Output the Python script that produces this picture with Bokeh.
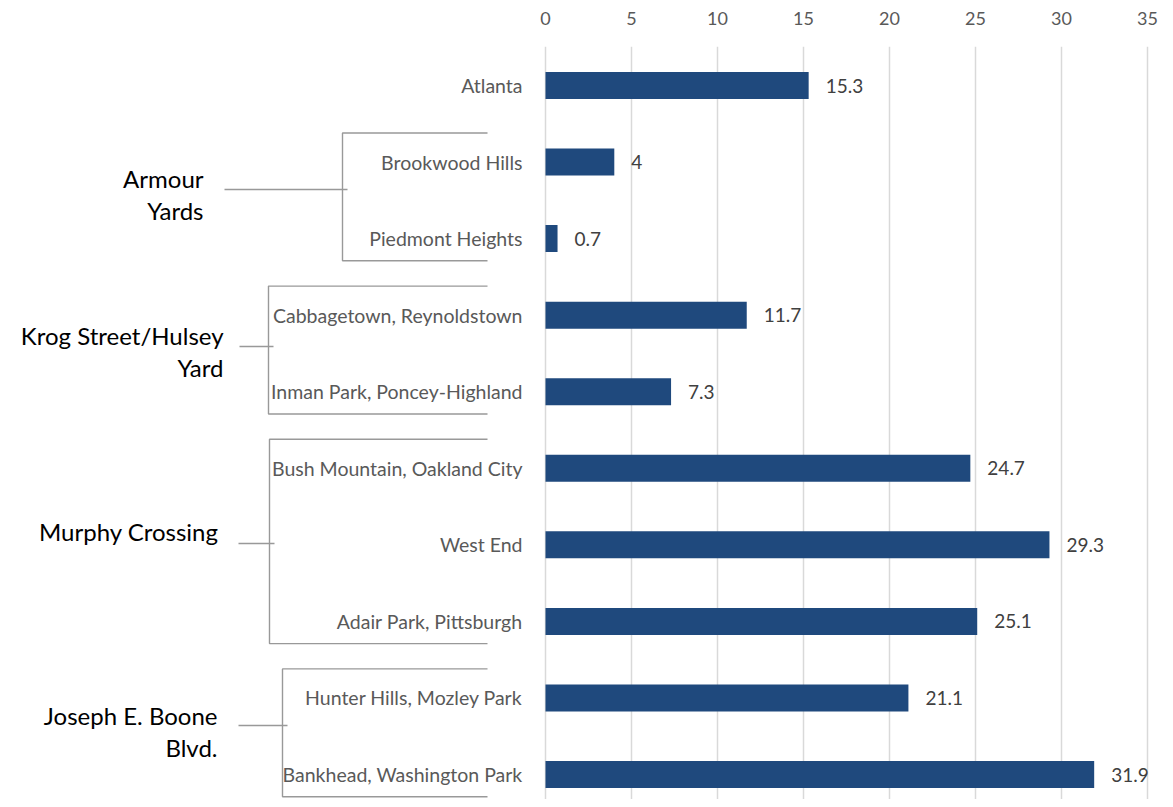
from bokeh.plotting import figure
from bokeh.models import Range1d, FixedTicker, ColumnDataSource
from bokeh.core.properties import value
from bokeh.embed import file_html
from bokeh.resources import INLINE

# ---------------- data ----------------
categories = ["Atlanta", "Brookwood Hills", "Piedmont Heights",
              "Cabbagetown, Reynoldstown", "Inman Park, Poncey-Highland",
              "Bush Mountain, Oakland City", "West End", "Adair Park, Pittsburgh",
              "Hunter Hills, Mozley Park", "Bankhead, Washington Park"]
values = [15.3, 4, 0.7, 11.7, 7.3, 24.7, 29.3, 25.1, 21.1, 31.9]
group_names = ["Armour\nYards", "Krog Street/Hulsey\nYard", "Murphy Crossing",
               "Joseph E. Boone\nBlvd."]
group_first = [1, 3, 5, 8]
group_last = [2, 4, 7, 9]
tick_values = [0, 5, 10, 15, 20, 25, 30, 35]

# ---------------- layout (reference pixel geometry) ----------------
X0_PX, PX_PER_UNIT = 545.0, 17.2
ROW0_PX, PX_PER_ROW = 85.0, 76.56
W, H = 1165, 799
FRAME_TOP = 46


def xd(px):
    return (px - X0_PX) / PX_PER_UNIT


def yd(py):
    return (py - ROW0_PX) / PX_PER_ROW


bracket_vx = [342, 268, 269, 282]
bracket_right = 487
stub_left = [224, 239, 238, 238]
stub_y = [189, 346, 543, 725]
label_right = [203, 223, 218, 217]
label_cy = [194, 351, 531, 731]
TOP_OFF, BOT_OFF = -0.38, 0.29

p = figure(width=W, height=H, output_backend="svg", toolbar_location=None,
           x_range=Range1d(xd(0), xd(W)),
           y_range=Range1d(yd(H), yd(FRAME_TOP)),
           x_axis_location="above", y_axis_location=None,
           min_border_top=FRAME_TOP, min_border_bottom=0,
           min_border_left=0, min_border_right=0)
p.outline_line_color = None
p.background_fill_color = "white"
p.border_fill_color = "white"

ticker = FixedTicker(ticks=tick_values)
p.xaxis.ticker = ticker
p.xgrid.ticker = ticker
p.xgrid.grid_line_color = "#d9d9d9"
p.xgrid.grid_line_width = 1.5
p.ygrid.visible = False
p.xaxis.axis_line_color = None
p.xaxis.major_tick_line_color = None
p.xaxis.minor_tick_line_color = None
p.xaxis.major_label_text_font = "Lato"
p.xaxis.major_label_text_font_size = "18px"
p.xaxis.major_label_text_color = "#595959"
p.xaxis.major_label_standoff = 16

rows = list(range(len(categories)))
src = ColumnDataSource(dict(y=rows, v=values, cat=categories,
                            lab=[f"{v:g}" for v in values]))

p.hbar(y="y", left=0, right="v", height=27 / PX_PER_ROW, source=src,
       fill_color="#1F497D", line_color=None)

p.text(x="v", y="y", text="lab", source=src, x_offset=17,
       text_font=value("Lato"), text_font_size="19px", text_color="#404040",
       text_align="left", text_baseline="middle")

p.text(x=0, y="y", text="cat", source=src, x_offset=-23,
       text_font=value("Lato"), text_font_size="19.5px", text_color="#595959",
       text_align="right", text_baseline="middle")

# group brackets
xs, ys = [], []
for i in range(len(group_names)):
    top = group_first[i] + TOP_OFF
    bot = group_last[i] + BOT_OFF
    vx = xd(bracket_vx[i])
    xs.append([xd(bracket_right), vx, vx, xd(bracket_right)])
    ys.append([top, top, bot, bot])
    xs.append([xd(stub_left[i]), vx + 5 / PX_PER_UNIT])
    ys.append([yd(stub_y[i]), yd(stub_y[i])])
p.multi_line(xs=xs, ys=ys, line_color="#999999", line_width=1.4)

p.text(x=[xd(v) for v in label_right], y=[yd(v) for v in label_cy],
       text=group_names, text_font=value("Lato"), text_font_size="24px",
       text_color="#000000", text_align="right", text_baseline="middle",
       text_line_height=1.11)

open("out.html", "w").write(file_html(p, INLINE))
